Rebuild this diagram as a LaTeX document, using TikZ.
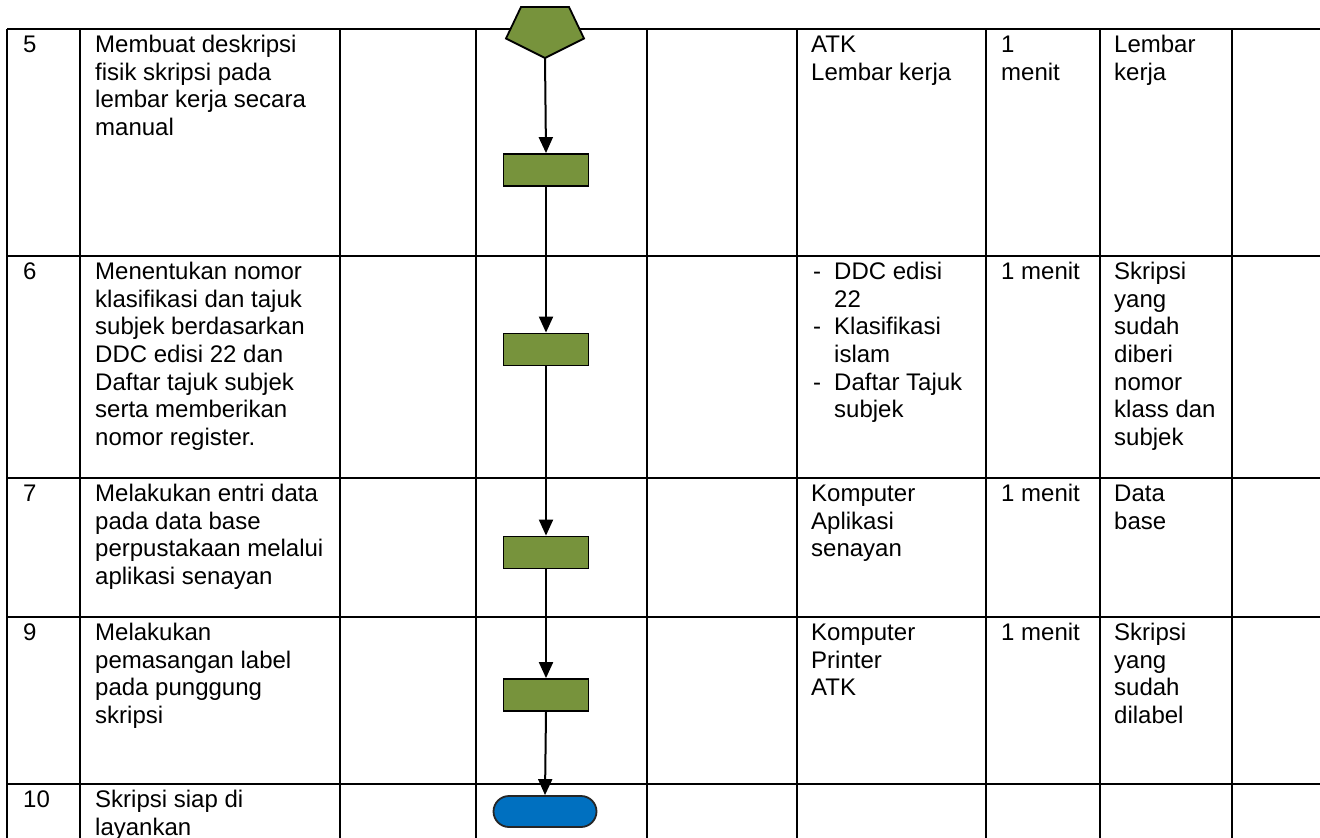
\documentclass[tikz,border=0pt]{standalone}
\usepackage{fontspec}
\setmainfont{Liberation Sans}
\usetikzlibrary{arrows.meta,shapes.misc}
\definecolor{olive}{HTML}{77933C}
\definecolor{termblue}{HTML}{0070C0}
\newcommand\fl{\rule{0pt}{20pt}}
\newcommand\dl{\makebox[21pt][l]{-}}
\newcommand\il{\hspace*{21pt}}
\begin{document}
\begin{tikzpicture}[x=1pt,y=-1pt,
  grid/.style={line width=2.6pt},
  txt/.style={anchor=north west, inner sep=0pt, align=left, font=\fontsize{24}{27.6}\selectfont},
  proc/.style={draw=black, line width=1.8pt, fill=olive, minimum width=85pt, minimum height=32pt, inner sep=0pt},
  term/.style={draw=black!85, line width=1.8pt, fill=termblue, rounded rectangle, minimum width=103pt, minimum height=31pt, inner sep=0pt},
  arr/.style={line width=2pt, -{Triangle[length=16pt,width=14pt]}}]
\path[use as bounding box, clip] (0,0) rectangle (1320,838);
\fill[white] (0,0) rectangle (1320,838);
% table grid
\foreach \yy in {29,256,478,617,784}{\draw[grid] (7,\yy) -- (1340,\yy);}
\foreach \xx in {7,80,340,476,647,797,986,1100,1232}{\draw[grid] (\xx,29) -- (\xx,860);}
% flow shapes
\draw[line width=1.8pt, fill=olive, line join=miter]
  (521,7) -- (569,7) -- (584,38.5) -- (545,58) -- (506,38.5) -- cycle;
\coordinate (pent) at (545,58);
\node[proc] (b1) at (546,170) {};
\node[proc] (b2) at (546,349.5) {};
\node[proc] (b3) at (546,552.5) {};
\node[proc] (b4) at (546,695) {};
\node[term] (t) at (545,811.5) {};
\draw[arr] (pent) -- (b1.north);
\draw[arr] (b1.south) -- (b2.north);
\draw[arr] (b2.south) -- (b3.north);
\draw[arr] (b3.south) -- (b4.north);
\draw[arr] (b4.south) -- (t.north);
% row 5
\node[txt] (n5) at (23,32.5) {\fl 5};
\node[txt] (d5) at (95,32.5) {\fl Membuat deskripsi\\fisik skripsi pada\\lembar kerja secara\\manual};
\node[txt] (a5) at (811,32.5) {\fl ATK\\Lembar kerja};
\node[txt] (w5) at (1001,32.5) {\fl 1\\menit};
\node[txt] (o5) at (1114,32.5) {\fl Lembar\\kerja};
% row 6
\node[txt] (n6) at (23,259.5) {\fl 6};
\node[txt] (d6) at (95,259.5) {\fl Menentukan nomor\\klasifikasi dan tajuk\\subjek berdasarkan\\DDC edisi 22 dan\\Daftar tajuk subjek\\serta memberikan\\nomor register.};
\node[txt] (a6) at (813,259.5) {\fl\dl DDC edisi\\\il 22\\\dl Klasifikasi\\\il islam\\\dl Daftar Tajuk\\\il subjek};
\node[txt] (w6) at (1001,259.5) {\fl 1 menit};
\node[txt] (o6) at (1114,259.5) {\fl Skripsi\\yang\\sudah\\diberi\\nomor\\klass dan\\subjek};
% row 7
\node[txt] (n7) at (23,481.5) {\fl 7};
\node[txt] (d7) at (95,481.5) {\fl Melakukan entri data\\pada data base\\perpustakaan melalui\\aplikasi senayan};
\node[txt] (a7) at (811,481.5) {\fl Komputer\\Aplikasi\\senayan};
\node[txt] (w7) at (1001,481.5) {\fl 1 menit};
\node[txt] (o7) at (1114,481.5) {\fl Data\\base};
% row 9
\node[txt] (n9) at (23,620.5) {\fl 9};
\node[txt] (d9) at (95,620.5) {\fl Melakukan\\pemasangan label\\pada punggung\\skripsi};
\node[txt] (a9) at (811,620.5) {\fl Komputer\\Printer\\ATK};
\node[txt] (w9) at (1001,620.5) {\fl 1 menit};
\node[txt] (o9) at (1114,620.5) {\fl Skripsi\\yang\\sudah\\dilabel};
% row 10
\node[txt] (n10) at (23,787.5) {\fl 10};
\node[txt] (d10) at (95,787.5) {\fl Skripsi siap di\\layankan};
\end{tikzpicture}
\end{document}
